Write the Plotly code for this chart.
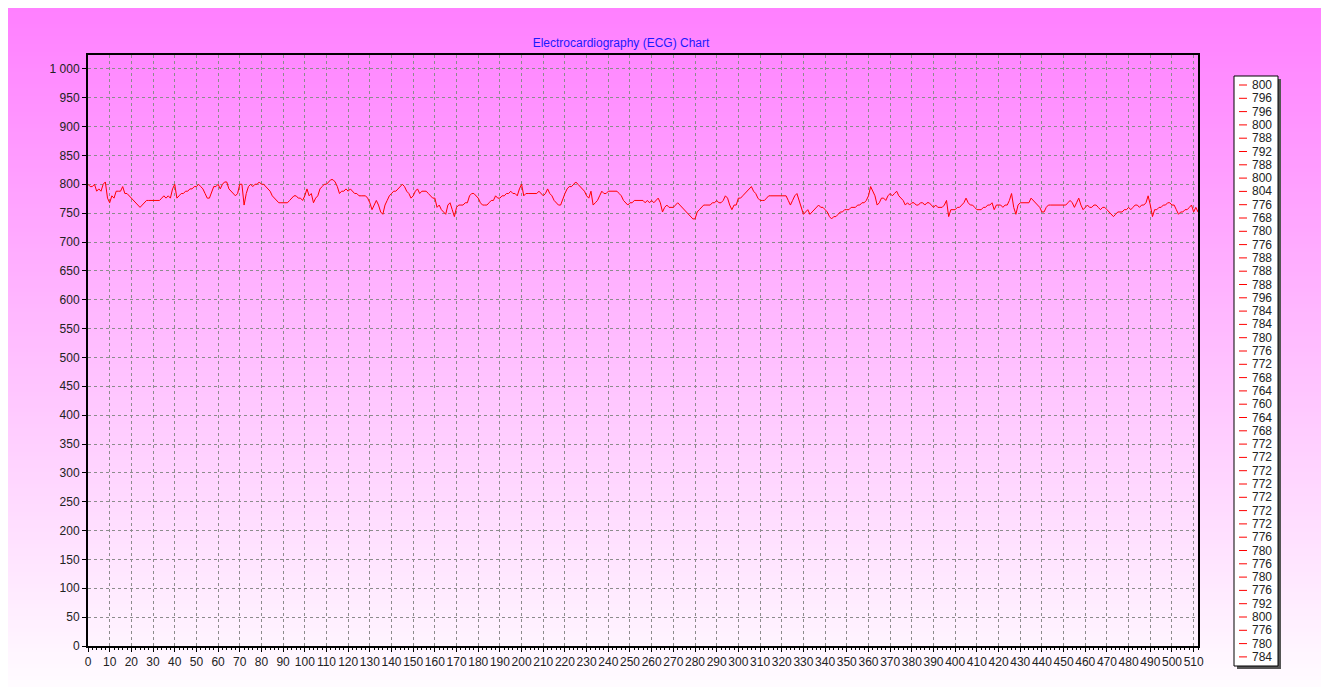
import plotly.graph_objects as go

# ECG samples (ADC counts), one per sample index
ecg_values = [
    800, 796, 796, 800, 788, 792, 788, 800, 804, 776,
    768, 780, 776, 788, 788, 788, 796, 784, 784, 780,
    776, 772, 768, 764, 760, 764, 768, 772, 772, 772,
    772, 772, 772, 772, 776, 780, 776, 780, 776, 792,
    800, 776, 780, 784, 784, 788, 788, 792, 792, 796,
    796, 800, 796, 792, 784, 776, 776, 788, 796, 796,
    800, 792, 800, 804, 804, 792, 788, 784, 780, 784,
    800, 800, 764, 784, 796, 800, 796, 800, 800, 804,
    800, 800, 796, 792, 788, 780, 776, 772, 768, 768,
    768, 768, 768, 772, 776, 780, 780, 776, 776, 772,
    780, 792, 780, 784, 768, 776, 780, 792, 796, 800,
    800, 804, 808, 808, 804, 796, 784, 788, 788, 792,
    788, 792, 788, 784, 784, 780, 780, 780, 780, 776,
    768, 756, 764, 772, 764, 752, 748, 764, 772, 780,
    784, 788, 788, 792, 796, 800, 796, 788, 784, 776,
    780, 788, 792, 784, 788, 788, 788, 784, 780, 776,
    776, 760, 764, 756, 752, 748, 764, 768, 756, 744,
    760, 764, 764, 764, 768, 768, 780, 784, 784, 780,
    776, 768, 764, 764, 764, 768, 772, 772, 780, 776,
    776, 780, 780, 784, 784, 788, 784, 784, 780, 792,
    800, 780, 784, 784, 784, 784, 784, 784, 788, 784,
    780, 784, 792, 784, 780, 772, 768, 764, 764, 776,
    784, 792, 796, 796, 800, 804, 800, 796, 792, 788,
    780, 776, 788, 764, 768, 772, 780, 788, 784, 784,
    788, 788, 788, 788, 788, 784, 780, 772, 768, 764,
    768, 768, 772, 772, 772, 772, 772, 768, 772, 768,
    772, 768, 772, 776, 768, 752, 760, 764, 760, 760,
    760, 764, 768, 764, 760, 756, 752, 748, 744, 740,
    740, 752, 756, 760, 764, 764, 764, 764, 768, 768,
    772, 768, 768, 772, 780, 776, 764, 756, 764, 764,
    776, 776, 780, 784, 788, 792, 796, 788, 784, 776,
    772, 772, 772, 776, 780, 780, 780, 780, 780, 780,
    780, 780, 780, 772, 764, 772, 780, 784, 772, 756,
    748, 752, 756, 748, 752, 756, 760, 764, 760, 760,
    756, 752, 744, 740, 744, 744, 748, 752, 752, 756,
    756, 756, 760, 760, 760, 764, 764, 768, 768, 772,
    780, 796, 788, 780, 764, 768, 776, 776, 772, 780,
    784, 780, 784, 788, 780, 776, 772, 764, 768, 764,
    768, 768, 764, 764, 768, 768, 764, 768, 768, 764,
    760, 764, 760, 760, 760, 764, 772, 744, 756, 756,
    756, 760, 760, 764, 768, 776, 768, 764, 764, 760,
    756, 756, 756, 760, 760, 764, 764, 768, 756, 764,
    764, 764, 760, 764, 764, 772, 784, 760, 748, 764,
    768, 768, 768, 768, 768, 776, 772, 768, 764, 760,
    752, 752, 760, 764, 764, 764, 764, 764, 764, 764,
    764, 764, 768, 772, 768, 760, 768, 776, 764, 756,
    760, 764, 760, 760, 764, 764, 760, 756, 760, 760,
    756, 752, 748, 744, 748, 752, 752, 752, 756, 756,
    760, 756, 760, 764, 764, 760, 764, 764, 768, 780,
    764, 744, 756, 756, 760, 760, 764, 764, 768, 768,
    764, 764, 756, 748, 752, 752, 756, 756, 760, 764,
    752, 760, 752,
]
sample_index = list(range(len(ecg_values)))

# Legend lists the values of the first samples
legend_count = 44
legend_values = ecg_values[:legend_count]

title_text = "Electrocardiography (ECG) Chart"
x_range = [0, 512]
y_range = [0, 1024]

W, H = 1321, 687
PL, PR, PT, PB = 88, 1198, 55, 646  # plot area in pixels


def px_x(px):
    return (px - PL) / (PR - PL)


def px_y(py):
    return (PB - py) / (PB - PT)


shapes = []

# Panel gradient: magenta at the top fading to near white at the bottom
top, bottom = 8, H
band = 4
y = top
while y < bottom:
    t = (y - top) / (bottom - top)
    g = round(128 + t * (252 - 128))
    shapes.append(dict(
        type="rect", xref="paper", yref="paper", layer="below",
        x0=px_x(8), x1=px_x(W + 2), y0=px_y(min(y + band + 1, bottom)), y1=px_y(y),
        fillcolor=f"rgb(255,{g},255)", line=dict(width=0),
    ))
    y += band

# Legend box with drop shadow
lx0, lx1, ly0, ly1 = 1234, 1278, 76, 666
shapes.append(dict(type="rect", xref="paper", yref="paper",
                   x0=px_x(lx0 + 3), x1=px_x(lx1 + 3), y0=px_y(ly1 + 3), y1=px_y(ly0 + 3),
                   fillcolor="#555555", line=dict(width=0)))
shapes.append(dict(type="rect", xref="paper", yref="paper",
                   x0=px_x(lx0), x1=px_x(lx1), y0=px_y(ly1), y1=px_y(ly0),
                   fillcolor="white", line=dict(color="black", width=1)))

annotations = []
row_h = 13.3
for i, v in enumerate(legend_values):
    yc = 85 + i * row_h
    shapes.append(dict(type="line", xref="paper", yref="paper",
                       x0=px_x(1239), x1=px_x(1247), y0=px_y(yc), y1=px_y(yc),
                       line=dict(color="red", width=1)))
    annotations.append(dict(
        xref="paper", yref="paper", x=px_x(1250), y=px_y(yc),
        xanchor="left", yanchor="middle", showarrow=False,
        text=str(v), font=dict(family="Liberation Sans, Arial", size=12, color="#222222"),
    ))

fig = go.Figure()
fig.add_trace(go.Scatter(
    x=sample_index, y=ecg_values, mode="lines",
    line=dict(color="#ff0000", width=1), showlegend=False, hoverinfo="skip",
))

axis_common = dict(
    showgrid=True, gridcolor="#8c8c8c", gridwidth=1, griddash="3px,3px",
    showline=True, linecolor="black", linewidth=2, mirror=True,
    ticks="outside", ticklen=4, tickcolor="black", tickwidth=1,
    zeroline=False, tickangle=0, separatethousands=True,
    tickfont=dict(family="Liberation Sans, Arial", size=12, color="#222222"),
)

fig.update_layout(
    width=W, height=H,
    margin=dict(l=PL, r=W - PR, t=PT, b=H - PB, autoexpand=False),
    paper_bgcolor="white", plot_bgcolor="rgba(0,0,0,0)",
    separators=". ",
    title=dict(text=title_text, x=621 / W, xref="container", xanchor="center",
               y=1 - 43 / H, yref="container", yanchor="middle",
               font=dict(family="Liberation Sans, Arial", size=12, color="#1a1aff")),
    xaxis=dict(range=x_range, tick0=0, dtick=10,
               minor=dict(ticks="outside", ticklen=2, dtick=2, tickcolor="black", showgrid=False),
               **axis_common),
    yaxis=dict(range=y_range, tick0=0, dtick=50, **axis_common),
    shapes=shapes, annotations=annotations, showlegend=False,
)

fig.write_html("out.html")
